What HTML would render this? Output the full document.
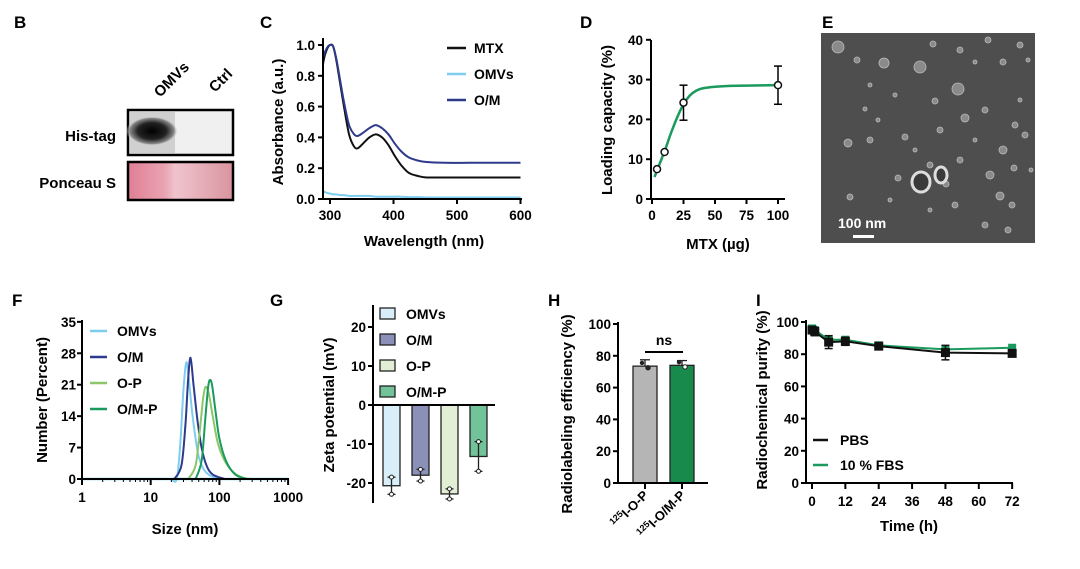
<!DOCTYPE html>
<html><head><meta charset="utf-8"><style>
body{margin:0;background:#fff}
svg{display:block;font-family:"Liberation Sans",sans-serif;font-weight:bold}
</style></head><body>
<svg id="fig" width="1080" height="569" viewBox="0 0 1080 569" xmlns="http://www.w3.org/2000/svg">
<defs>
<linearGradient id="pg" x1="0" x2="1"><stop offset="0" stop-color="#e07f95"/><stop offset="0.35" stop-color="#e9a3b2"/><stop offset="0.45" stop-color="#f0c4cd"/><stop offset="1" stop-color="#d9949f"/></linearGradient>
<radialGradient id="band" cx="0.5" cy="0.5" r="0.5"><stop offset="0" stop-color="#000"/><stop offset="0.55" stop-color="#222"/><stop offset="0.85" stop-color="#888"/><stop offset="1" stop-color="#eee" stop-opacity="0"/></radialGradient>
</defs>
<g>
<text x="14" y="28" font-size="17">B</text>
<text transform="translate(160,98) rotate(-45)" font-size="15">OMVs</text>
<text transform="translate(215,93) rotate(-45)" font-size="15">Ctrl</text>
<text x="116" y="141" font-size="15" text-anchor="end">His-tag</text>
<text x="116" y="188" font-size="15" text-anchor="end">Ponceau S</text>
<rect x="128" y="110" width="105" height="45" fill="#f0f0f0" stroke="#000" stroke-width="2.5"/>
<rect x="130" y="112" width="45" height="41" fill="#bbb" opacity="0.6"/>
<ellipse cx="152" cy="131" rx="26" ry="15" fill="url(#band)"/>
<rect x="128" y="162" width="105" height="38" fill="url(#pg)" stroke="#000" stroke-width="2.5"/>
</g>
<g>
<text x="822" y="28" font-size="17">E</text>
<rect x="821" y="33" width="214" height="210" fill="#4e4e4e"/>
<g id="dots" fill="#8a8a8a" stroke="#bbbbbb" stroke-width="0.8"></g>
<text x="838" y="228" font-size="14" fill="#fff">100 nm</text>
<rect x="853" y="235" width="21" height="3" fill="#fff"/>
</g>
<g id="charts"></g>
</svg>
<script>
const cWave=[281,283,286,290,295,300,305,310,316,322,330,338,344,352,362,372,382,392,402,412,424,438,452,480,520,560,600];
const cMTX=[0.0,0.3,0.75,0.9,0.97,1.0,0.99,0.9,0.75,0.6,0.42,0.34,0.33,0.36,0.40,0.42,0.40,0.35,0.28,0.22,0.17,0.15,0.14,0.14,0.14,0.14,0.14];
const cOM=[0.0,0.4,0.85,0.93,0.98,1.0,0.99,0.91,0.77,0.63,0.48,0.42,0.41,0.43,0.46,0.48,0.46,0.42,0.36,0.31,0.27,0.25,0.24,0.235,0.235,0.235,0.235];
const cOMVs=[0.1,0.22,0.08,0.05,0.04,0.035,0.03,0.03,0.025,0.025,0.02,0.02,0.02,0.02,0.02,0.015,0.015,0.015,0.015,0.015,0.012,0.012,0.01,0.01,0.01,0.01,0.01];
const cYTicks=["0.0","0.2","0.4","0.6","0.8","1.0"];
const cXTicks=[300,400,500,600];
const dX=[4,10,25,100];
const dY=[7.5,11.8,24.2,28.6];
const dErr=[0,0,4.4,4.8];
const dFitX=[2,5,10,15,20,25,30,35,40,50,60,75,100];
const dFitY=[5.5,8,12,16.5,20.5,23.8,26,27.2,27.8,28.2,28.4,28.5,28.6];
const dYTicks=[0,10,20,30,40];
const dXTicks=[0,25,50,75,100];
const fNames=["OMVs","O/M","O-P","O/M-P"];
const fColors=["#7fcdee","#2e3a8c","#8cc66a","#1a9a5c"];
const fSizes=[[20,24,27,30,33,36,40,45,50,60,80,120],[22,28,32,35,38,42,48,55,65,80,120],[35,45,52,58,63,70,80,95,120,160,220,300],[45,55,62,68,72,78,88,100,125,170,250]];
const fVals=[[0,0,8,20,26,22,15,9,5,2,0.5,0],[0,3,12,22,27,21,13,7,3,1,0],[0,3,11,18,20.5,19,14,8,4,1.5,0.3,0],[0,4,13,20,22,21,15,9,4,1,0]];
const fYTicks=[0,7,14,21,28,35];
const fXTicks=[1,10,100,1000];
const gNames=["OMVs","O/M","O-P","O/M-P"];
const gFill=["#d8eef8","#8a90b8","#e2efd4","#72c29a"];
const gVals=[-20.7,-18,-22.8,-13.2];
const gErr=[2.2,1.5,1.3,3.8];
const gTicks=[-20,-10,0,10,20];
const hNames=["O-P","O/M-P"];
const hVals=[73.5,74];
const hErr=[4,3];
const hFill=["#b5b5b5","#178a4c"];
const hTicks=[0,20,40,60,80,100];
const iTime=[0,1,6,12,24,48,72];
const iPBS=[95,94,87.5,88,85,81,80.5];
const iPBSErr=[2,2.5,4,2.5,1.5,4.5,2];
const iFBS=[96,95,89,89,85.5,83,84];
const iYTicks=[0,20,40,60,80,100];
const iXTicks=[0,12,24,36,48,60,72];

const NS="http://www.w3.org/2000/svg";
const root=document.getElementById('charts');
const TS=13.5;
function mk(tag,attrs,parent){const e=document.createElementNS(NS,tag);for(const k in attrs)e.setAttribute(k,attrs[k]);(parent||root).appendChild(e);return e;}
function txt(x,y,s,size,anchor,parent){const e=mk('text',{x:x,y:y,'font-size':size,'text-anchor':anchor||'middle'},parent);e.textContent=s;return e;}
function smooth(pts){let d='M'+pts[0][0]+','+pts[0][1];for(let i=0;i<pts.length-1;i++){const p0=pts[i-1]||pts[i],p1=pts[i],p2=pts[i+1],p3=pts[i+2]||p2;const c1=[p1[0]+(p2[0]-p0[0])/6,p1[1]+(p2[1]-p0[1])/6],c2=[p2[0]-(p3[0]-p1[0])/6,p2[1]-(p3[1]-p1[1])/6];d+=' C'+c1[0]+','+c1[1]+' '+c2[0]+','+c2[1]+' '+p2[0]+','+p2[1];}return d;}
function line(x1,y1,x2,y2,w,c,parent){return mk('line',{x1:x1,y1:y1,x2:x2,y2:y2,stroke:c||'#000','stroke-width':w||2},parent);}
function rotLabel(x,y,s,size,parent){const e=mk('text',{transform:'translate('+x+','+y+') rotate(-90)','font-size':size,'text-anchor':'middle'},parent);e.textContent=s;return e;}
let e;

{const g=mk('g',{});
const X=w=>330+(w-300)*0.635, Y=v=>199-v*154;
e=txt(260,28,'C',17,'start',g);
const cl=mk('clipPath',{id:'cclip'},g);mk('rect',{x:323,y:30,width:200,height:170},cl);
[[cMTX,'#111','mtx'],[cOMVs,'#7fcdee','omvs'],[cOM,'#2e3a8c','om']].forEach(([arr,col,nm])=>{
 e=mk('path',{d:smooth(cWave.map((w,i)=>[X(w),Y(arr[i])])),fill:'none',stroke:col,'stroke-width':2,'clip-path':'url(#cclip)'},g);
 });
e=line(323,38,323,200,2,'#000',g);
e=line(322,199,522,199,2,'#000',g);
cYTicks.forEach(t=>{const y=Y(+t);line(318,y,323,y,2,'#000',g);e=txt(315,y+5,t,TS,'end',g);});
cXTicks.forEach(t=>{const x=X(t);line(x,199,x,204,2,'#000',g);e=txt(x,220,String(t),TS,'middle',g);});
e=rotLabel(283,122,'Absorbance (a.u.)',15,g);
e=txt(424,246,'Wavelength (nm)',15,'middle',g);
[['MTX','#111'],['OMVs','#7fcdee'],['O/M','#2e3a8c']].forEach(([n,c],i)=>{const y=52+i*26;line(447,y-4,466,y-4,2.5,c,g);e=txt(474,y+1,n,14,'start',g);});
}
{const g=mk('g',{});
const X=v=>652+v*1.26, Y=v=>199-v*3.98;
e=txt(580,28,'D',17,'start',g);
e=mk('path',{d:smooth(dFitX.map((x,i)=>[X(x),Y(dFitY[i])])),fill:'none',stroke:'#1a9a5c','stroke-width':2.5},g);
dX.forEach((x,i)=>{if(dErr[i]){line(X(x),Y(dY[i]+dErr[i]),X(x),Y(dY[i]-dErr[i]),1.5,'#000',g);line(X(x)-4,Y(dY[i]+dErr[i]),X(x)+4,Y(dY[i]+dErr[i]),1.5,'#000',g);line(X(x)-4,Y(dY[i]-dErr[i]),X(x)+4,Y(dY[i]-dErr[i]),1.5,'#000',g);}
 e=mk('circle',{cx:X(x),cy:Y(dY[i]),r:3.5,fill:'#fff',stroke:'#111','stroke-width':1.5},g);});
e=line(651,40,651,200,2,'#000',g);
e=line(650,199,785,199,2,'#000',g);
dYTicks.forEach(t=>{const y=Y(t);line(646,y,651,y,2,'#000',g);e=txt(643,y+5,String(t),TS,'end',g);});
dXTicks.forEach(t=>{const x=X(t);line(x,199,x,204,2,'#000',g);e=txt(x,220,String(t),TS,'middle',g);});
e=rotLabel(612,120,'Loading capacity (%)',15,g);
e=txt(718,249,'MTX (µg)',15,'middle',g);
}
{const g=mk('g',{});
const X=v=>82+Math.log10(v)*68.7, Y=v=>479-v*4.49;
e=txt(12,306,'F',17,'start',g);
e=line(82,479,288,479,2.5,'#7fcdee',g);
fSizes.forEach((s,k)=>{e=mk('path',{d:smooth(s.map((x,i)=>[X(x),Y(fVals[k][i])])),fill:'none',stroke:fColors[k],'stroke-width':2},g);});
e=line(82,320,82,480,2,'#000',g);
e=line(81,479,289,479,2,'#000',g);
fYTicks.forEach(t=>{const y=Y(t);line(77,y,82,y,2,'#000',g);e=txt(76,y+5,String(t),TS,'end',g);});
for(let d=1;d<1000;d*=10)for(let m=2;m<10;m++){const x=X(d*m);line(x,479,x,482,1,'#000',g);}
fXTicks.forEach(t=>{const x=X(t);line(x,479,x,485,2,'#000',g);e=txt(x,502,String(t),TS,'middle',g);});
e=rotLabel(47,400,'Number (Percent)',15,g);
e=txt(185,534,'Size (nm)',15,'middle',g);
fNames.forEach((n,i)=>{const y=335+i*26;line(90,y-4,107,y-4,2.5,fColors[i],g);e=txt(117,y+1,n,14,'start',g);});
}
{const g=mk('g',{});
const Y=v=>405-v*3.9, bx=i=>383+i*29;
e=txt(270,306,'G',17,'start',g);
gVals.forEach((v,i)=>{e=mk('rect',{x:bx(i),y:405,width:17,height:Y(v)-405,fill:gFill[i],stroke:'#222','stroke-width':1.3},g);
 const cx=bx(i)+8.5,y1=Y(v-gErr[i]),y2=Y(v+gErr[i]);line(cx,y1,cx,y2,1.3,'#222',g);line(cx-4,y1,cx+4,y1,1.3,'#222',g);line(cx-4,y2,cx+4,y2,1.3,'#222',g);
 [y1,y2].forEach(yy=>{mk('circle',{cx:cx,cy:yy,r:2,fill:'#fff',stroke:'#222','stroke-width':1},g);});});
e=line(373,305,373,503,2,'#000',g);
e=line(372,405,495,405,2,'#000',g);
gTicks.forEach(t=>{const y=Y(t);line(368,y,373,y,2,'#000',g);e=txt(366,y+5,String(t),TS,'end',g);});
e=rotLabel(334,405,'Zeta potential (mV)',15,g);
gNames.forEach((n,i)=>{const y=315+i*26;mk('rect',{x:380,y:y-7,width:15,height:11,fill:gFill[i],stroke:'#222','stroke-width':1.3},g);e=txt(406,y+4,n,14,'start',g);});
}
{const g=mk('g',{});
const Y=v=>483-v*1.59, bx=i=>633+i*37;
e=txt(548,306,'H',17,'start',g);
hVals.forEach((v,i)=>{e=mk('rect',{x:bx(i),y:Y(v),width:24,height:483-Y(v),fill:hFill[i],stroke:'#222','stroke-width':1.3},g);
 const cx=bx(i)+12,y1=Y(v+hErr[i]);line(cx,y1,cx,Y(v),1.3,'#222',g);line(cx-5,y1,cx+5,y1,1.3,'#222',g);
 mk('circle',{cx:cx-3,cy:Y(v+2),r:2.2,fill:'#222'},g);mk('circle',{cx:cx+3,cy:Y(v-1),r:2.2,fill:i?'#fff':'#222',stroke:'#222'},g);});
e=line(618,322,618,484,2,'#000',g);
e=line(617,483,708,483,2,'#000',g);
hTicks.forEach(t=>{const y=Y(t);line(613,y,618,y,2,'#000',g);e=txt(611,y+5,String(t),TS,'end',g);});
hNames.forEach((n,i)=>{const x=bx(i)+12;line(x,483,x,489,2,'#000',g);e=mk('text',{transform:'translate('+(x+4)+',496) rotate(-45)','font-size':13,'text-anchor':'end'},g);e.innerHTML='<tspan font-size="9" dy="-5">125</tspan><tspan dy="5">I-'+n+'</tspan>';});
e=line(645,352,683,352,2,'#000',g);
e=txt(664,345,'ns',14,'middle',g);
e=rotLabel(572,414,'Radiolabeling efficiency (%)',15,g);
}
{const g=mk('g',{});
const X=t=>812+t*2.78, Y=v=>483-v*1.61;
e=txt(756,306,'I',17,'start',g);
e=mk('polyline',{points:iTime.map((t,i)=>X(t)+','+Y(iFBS[i])).join(' '),fill:'none',stroke:'#1a9a5c','stroke-width':2},g);
iTime.forEach((t,i)=>{mk('rect',{x:X(t)-4,y:Y(iFBS[i])-4,width:8,height:8,fill:'#1a9a5c'},g);});
e=mk('polyline',{points:iTime.map((t,i)=>X(t)+','+Y(iPBS[i])).join(' '),fill:'none',stroke:'#111','stroke-width':2},g);
iTime.forEach((t,i)=>{const x=X(t),y1=Y(iPBS[i]+iPBSErr[i]),y2=Y(iPBS[i]-iPBSErr[i]);line(x,y1,x,y2,1.5,'#111',g);line(x-4,y1,x+4,y1,1.5,'#111',g);line(x-4,y2,x+4,y2,1.5,'#111',g);
 e=mk('rect',{x:x-4.5,y:Y(iPBS[i])-4.5,width:9,height:9,fill:'#111'},g);});
e=line(806,320,806,484,2,'#000',g);
e=line(805,483,1013,483,2,'#000',g);
iYTicks.forEach(t=>{const y=Y(t);line(801,y,806,y,2,'#000',g);e=txt(799,y+5,String(t),TS,'end',g);});
iXTicks.forEach(t=>{const x=X(t);line(x,483,x,489,2,'#000',g);e=txt(x,506,String(t),TS,'middle',g);});
e=rotLabel(767,400,'Radiochemical purity (%)',15,g);
e=txt(909,531,'Time (h)',15,'middle',g);
[['PBS','#111'],['10 % FBS','#1a9a5c']].forEach(([n,c],i)=>{const y=444+i*25;line(813,y-4,828,y-4,2.5,c,g);e=txt(840,y+1,n,14,'start',g);});
}
const dg=document.getElementById('dots');
[[838,47,6],[884,63,5],[920,67,6],[958,89,6],[1003,62,3],[1020,45,3],[988,40,3],[1003,150,4],[935,101,3],[965,118,4],[1014,168,3],[870,140,3],[848,143,4],[946,184,3],[857,60,3],[933,44,3],[1031,170,2],[960,160,3],[990,175,4],[1000,196,4],[850,197,3],[1012,205,3],[898,178,3],[1015,125,3],[1025,135,3],[905,137,3],[930,165,3],[865,109,2],[960,50,3],[878,120,2],[895,95,2],[940,130,3],[975,140,2],[985,110,3],[1020,100,2],[915,150,2],[955,205,3],[985,225,3],[1008,230,3],[930,210,2],[870,85,2],[1028,60,2],[890,200,2],[975,62,2]].forEach(p=>{const c=document.createElementNS(NS,'circle');c.setAttribute('cx',p[0]);c.setAttribute('cy',p[1]);c.setAttribute('r',p[2]);dg.appendChild(c);});
[[921,182,9,10],[941,175,6,8]].forEach(p=>{const rg=document.createElementNS(NS,'ellipse');rg.setAttribute('cx',p[0]);rg.setAttribute('cy',p[1]);rg.setAttribute('rx',p[2]);rg.setAttribute('ry',p[3]);rg.setAttribute('stroke-width',3);rg.setAttribute('stroke','#ddd');rg.setAttribute('fill','#3a3a3a');dg.appendChild(rg);});
</script>
</body></html>
